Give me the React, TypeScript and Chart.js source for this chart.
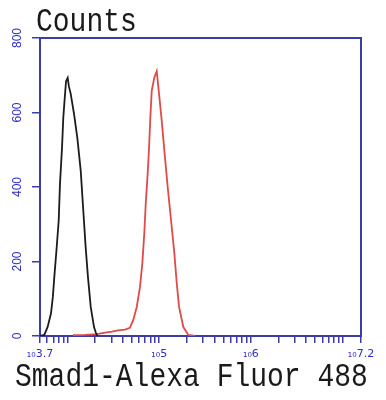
import React, { useEffect, useRef } from "react";
import { Chart, registerables } from "chart.js";

Chart.register(...registerables);

// Isotype control (black) : log10 fluorescence and counts
const blackExp = [3.7, 3.747, 3.784, 3.82, 3.84, 3.856, 3.882, 3.904, 3.918, 3.94, 3.954, 3.97, 3.984, 4.002, 4.015, 4.035, 4.071, 4.107, 4.144, 4.172, 4.198, 4.223, 4.253, 4.289, 4.31, 4.325];
const blackCounts = [0, 3, 25, 61, 105, 158, 238, 310, 409, 505, 586, 640, 684, 693, 670, 650, 596, 532, 444, 337, 238, 158, 78, 24, 8, 0];

// Smad1 stained (red)
const redExp = [4.06, 4.19, 4.32, 4.41, 4.485, 4.55, 4.627, 4.68, 4.717, 4.755, 4.79, 4.816, 4.837, 4.853, 4.874, 4.889, 4.903, 4.918, 4.946, 4.973, 4.998, 5.027, 5.056, 5.093, 5.129, 5.165, 5.191, 5.216, 5.263, 5.317, 5.39];
const redCounts = [2, 3, 5, 9, 12, 15, 17, 22, 43, 78, 131, 195, 275, 356, 436, 505, 586, 658, 693, 711, 650, 578, 497, 398, 310, 222, 142, 78, 24, 3, 0];

// axis
const xMinExp = 3.7;
const xMaxExp = 7.2;
const xLabelExps = [3.7, 5, 6, 7.2];
const xTickLabels = ["\u2081\u20803.7", "\u2081\u20805", "\u2081\u20806", "\u2081\u20807.2"];
const yTicks = [0, 200, 400, 600, 800];

const AXIS = "#3c3ca6";
const LABEL = "#2e2ec4";

export default function App() {
  const ref = useRef<HTMLCanvasElement>(null);

  useEffect(() => {
    document.body.style.margin = "0";
    const canvas = ref.current;
    if (!canvas) return;

    const toPts = (ex: number[], ys: number[]) => ex.map((e, i) => ({ x: Math.pow(10, e), y: ys[i] }));

    const chart = new Chart(canvas, {
      type: "scatter",
      data: {
        datasets: [
          {
            data: toPts(blackExp, blackCounts),
            showLine: true,
            borderColor: "#1c1c1c",
            borderWidth: 1.8,
            pointRadius: 0,
            tension: 0,
          },
          {
            data: toPts(redExp, redCounts),
            showLine: true,
            borderColor: "#e04a4a",
            borderWidth: 1.8,
            pointRadius: 0,
            tension: 0,
          },
        ],
      },
      options: {
        animation: false,
        responsive: false,
        devicePixelRatio: 1,
        layout: { padding: 0 },
        plugins: { legend: { display: false }, tooltip: { enabled: false }, title: { display: false } },
        scales: {
          x: {
            type: "logarithmic",
            position: "bottom",
            min: Math.pow(10, xMinExp),
            max: Math.pow(10, xMaxExp),
            afterBuildTicks: (s: any) => {
              const vals: number[] = [Math.pow(10, xMinExp)];
              for (let d = 3; d <= 7; d++) {
                for (let m = 1; m <= 9; m++) {
                  const v = m * Math.pow(10, d);
                  if (v > Math.pow(10, xMinExp) * 1.0001 && v < Math.pow(10, xMaxExp) * 0.9999) vals.push(v);
                }
              }
              vals.push(Math.pow(10, xMaxExp));
              s.ticks = vals.map((v) => ({ value: v }));
            },
            afterFit: (s: any) => {
              s.height = 64;
            },
            grid: {
              display: true,
              drawOnChartArea: false,
              drawTicks: true,
              tickLength: 7,
              color: AXIS,
              lineWidth: 1.5,
            },
            border: { display: true, color: AXIS, width: 2 },
            ticks: {
              autoSkip: false,
              minRotation: 0,
              maxRotation: 0,
              padding: 5,
              color: LABEL,
              font: { family: "DejaVu Sans", size: 11 },
              callback: (value: any) => {
                const e = Math.log10(Number(value));
                const idx = xLabelExps.findIndex((x) => Math.abs(x - e) < 1e-6);
                return idx >= 0 ? xTickLabels[idx] : "";
              },
            },
          },
          xt: {
            type: "linear",
            position: "top",
            display: true,
            grid: { display: false, drawTicks: false },
            ticks: { display: false },
            border: { display: true, color: AXIS, width: 2 },
            afterFit: (s: any) => {
              s.height = 38;
            },
          },
          y: {
            type: "linear",
            position: "left",
            min: 0,
            max: 800,
            afterBuildTicks: (s: any) => {
              s.ticks = yTicks.map((v) => ({ value: v }));
            },
            afterFit: (s: any) => {
              s.width = 40;
            },
            grid: {
              display: true,
              drawOnChartArea: false,
              drawTicks: true,
              tickLength: 8,
              color: AXIS,
              lineWidth: 1.5,
            },
            border: { display: true, color: AXIS, width: 2 },
            ticks: {
              minRotation: 90,
              maxRotation: 90,
              crossAlign: "center",
              padding: 4,
              color: LABEL,
              font: { family: "Liberation Sans", size: 12 },
            },
          },
          yr: {
            type: "linear",
            position: "right",
            display: true,
            grid: { display: false, drawTicks: false },
            ticks: { display: false },
            border: { display: true, color: AXIS, width: 2 },
            afterFit: (s: any) => {
              s.width = 25;
            },
          },
        },
      } as any,
    });

    return () => chart.destroy();
  }, []);

  const textStyle: React.CSSProperties = {
    position: "absolute",
    fontFamily: "'Liberation Mono', monospace",
    fontSize: 28,
    lineHeight: "28px",
    color: "#1a1a1a",
    whiteSpace: "nowrap",
    transform: "scaleY(1.17)",
    transformOrigin: "top left",
  };

  return (
    <div style={{ position: "relative", width: 386, height: 400, background: "#ffffff" }}>
      <canvas ref={ref} width={386} height={400} style={{ display: "block", width: 386, height: 400 }} />
      <div style={{ ...textStyle, left: 36, top: 6 }}>Counts</div>
      <div style={{ ...textStyle, left: 15, top: 361 }}>Smad1-Alexa Fluor 488</div>
    </div>
  );
}
